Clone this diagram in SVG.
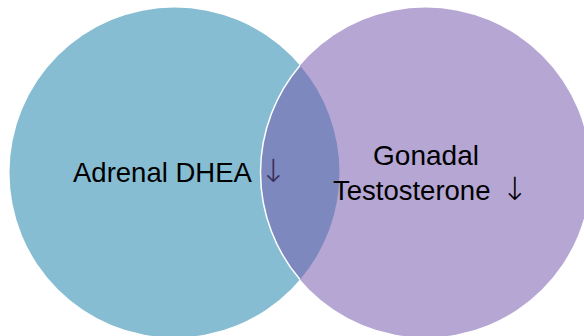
<svg xmlns="http://www.w3.org/2000/svg" width="584" height="336" viewBox="0 0 584 336">
  <style>
    .lbl { font-family: "Liberation Sans", Arial, sans-serif; font-size: 27.5px; fill: #000000; }
    .mid { text-anchor: middle; font-size: 28px; }
    .arr { font-family: "DejaVu Sans", sans-serif; font-size: 32px; font-weight: 200; }
  </style>
  <rect width="584" height="336" fill="#ffffff"/>
  <g id="node-adrenal">
    <circle cx="174.5" cy="172.5" r="165" fill="#87BDD3"/>
  </g>
  <g id="node-gonadal">
    <circle cx="425.5" cy="172.5" r="165" fill="#B6A6D3"/>
  </g>
  <g id="node-overlap">
    <path d="M300,65.4 A165,165 0 0,0 300,279.6 A165,165 0 0,0 300,65.4 Z" fill="#7D88BE"/>
    <path d="M300,65.4 A165,165 0 0,0 300,279.6" fill="none" stroke="#ffffff" stroke-width="1.5"/>
  </g>
  <g id="connectors"></g>
  <g id="labels">
    <text class="lbl" x="73" y="182">Adrenal DHEA <tspan class="arr" x="260" fill="#3B2E5A">↓</tspan></text>
    <text class="lbl mid" x="426" y="164.5">Gonadal</text>
    <text class="lbl" x="333" y="199.5">Testosterone <tspan class="arr" x="501.5">↓</tspan></text>
  </g>
</svg>
